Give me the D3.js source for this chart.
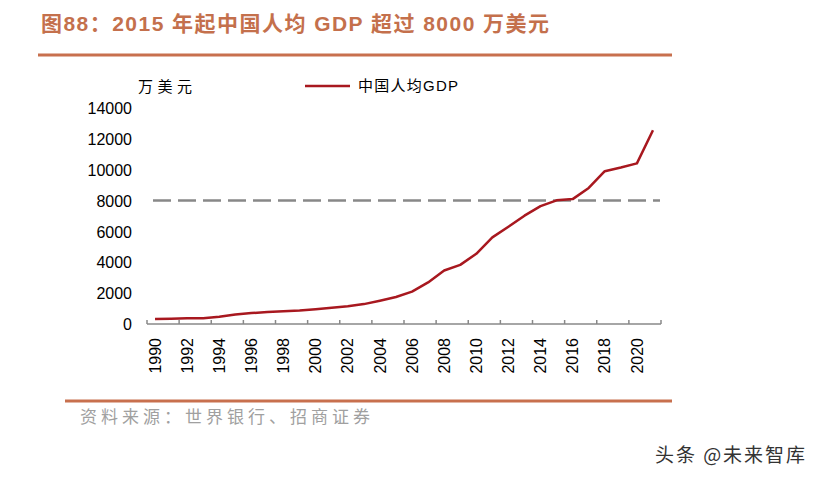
<!DOCTYPE html>
<html><head><meta charset="utf-8">
<script src="https://cdn.jsdelivr.net/npm/d3@7"></script>
<style>
html,body{margin:0;padding:0;background:#fff;}
svg{display:block;}
</style></head>
<body>
<svg id="c" width="819" height="478"></svg>
<script>
const years = d3.range(1990, 2022);
const gdpPerCapita = [318, 333, 366, 377, 473, 610, 709, 782, 829, 873, 959, 1053, 1149, 1289, 1509, 1753, 2099, 2694, 3468, 3832, 4550, 5614, 6301, 7020, 7636, 8016, 8094, 8817, 9905, 10144, 10409, 12556];
const yTicks = [0, 2000, 4000, 6000, 8000, 10000, 12000, 14000];
const xTickLabels = years.filter(y => y % 2 === 0);
const threshold = 8000;
const titleText = "图88：2015 年起中国人均 GDP 超过 8000 万美元";
const unitText = "万美元";
const legendText = "中国人均GDP";
const sourceText = "资料来源：世界银行、招商证券";
const watermark = "头条 @未来智库";

const svg = d3.select("#c");
const cjk = "'Noto Sans CJK SC', 'Liberation Sans', sans-serif";
const mixed = "'Liberation Sans', 'Noto Sans CJK SC', sans-serif";
const latin = "'Liberation Sans', Arial, sans-serif";

const x = d3.scaleBand().domain(years).range([147, 661]).padding(0);
const y = d3.scaleLinear().domain([0, 14000]).range([324, 108]);

// title
svg.append("text").attr("x", 41).attr("y", 31)
  .attr("font-family", mixed).attr("font-weight", "bold").attr("font-size", 21)
  .attr("fill", "#c4704c").attr("textLength", 508).attr("lengthAdjust", "spacing")
  .text(titleText);
svg.append("line").attr("x1", 38).attr("x2", 672).attr("y1", 55).attr("y2", 55)
  .attr("stroke", "#c8704e").attr("stroke-width", 3);

// unit
svg.append("text").attr("x", 138).attr("y", 92)
  .attr("font-family", cjk).attr("font-size", 15).attr("fill", "#000")
  .attr("textLength", 54).attr("lengthAdjust", "spacing").text(unitText);

// legend
svg.append("line").attr("x1", 305).attr("x2", 350).attr("y1", 86).attr("y2", 86)
  .attr("stroke", "#a8181f").attr("stroke-width", 2.5);
svg.append("text").attr("x", 358).attr("y", 91)
  .attr("font-family", mixed).attr("font-size", 15).attr("fill", "#000")
  .attr("textLength", 100).attr("lengthAdjust", "spacing").text(legendText);

// y axis labels (no line)
const yAxis = d3.axisLeft(y).tickValues(yTicks).tickSize(0).tickPadding(0).tickFormat(d3.format("d"));
const gy = svg.append("g").attr("transform", "translate(132,0)").call(yAxis);
gy.select(".domain").remove();
gy.selectAll("text").attr("font-family", latin).attr("font-size", 16).attr("fill", "#000").attr("dy", "0.35em");

// x axis
const gx = svg.append("g").attr("transform", `translate(0,${y(0)})`);
gx.append("line").attr("x1", x.range()[0]).attr("x2", x.range()[1]).attr("y1", 0).attr("y2", 0)
  .attr("stroke", "#888").attr("stroke-width", 1.5);
const tickPos = d3.range(0, years.length + 1, 2).map(i => x.range()[0] + i * x.bandwidth());
gx.selectAll("line.tk").data(tickPos).join("line").attr("class", "tk")
  .attr("x1", d => d).attr("x2", d => d).attr("y1", 0).attr("y2", -4)
  .attr("stroke", "#888").attr("stroke-width", 1.5);
gx.selectAll("text").data(xTickLabels).join("text")
  .attr("transform", d => `translate(${x(d) + x.bandwidth() / 2},14) rotate(-90)`)
  .attr("text-anchor", "end").attr("dy", "0.35em")
  .attr("font-family", latin).attr("font-size", 16).attr("fill", "#000")
  .text(d => d);

// threshold dashed line
svg.append("line").attr("x1", 153).attr("x2", 660).attr("y1", y(threshold)).attr("y2", y(threshold))
  .attr("stroke", "#888").attr("stroke-width", 2.5).attr("stroke-dasharray", "18,7");

// data line
const line = d3.line().x((d, i) => x(years[i]) + x.bandwidth() / 2).y(d => y(d));
svg.append("path").datum(gdpPerCapita).attr("d", line)
  .attr("fill", "none").attr("stroke", "#a8181f").attr("stroke-width", 2.5).attr("stroke-linejoin", "round");

// bottom rule + source
svg.append("line").attr("x1", 65).attr("x2", 672).attr("y1", 401).attr("y2", 401)
  .attr("stroke", "#c8704e").attr("stroke-width", 3);
svg.append("text").attr("x", 80).attr("y", 423)
  .attr("font-family", cjk).attr("font-size", 17).attr("fill", "#a0a0a0")
  .attr("textLength", 290).attr("lengthAdjust", "spacing").text(sourceText);

// watermark
svg.append("text").attr("x", 655).attr("y", 462)
  .attr("font-family", cjk).attr("font-size", 19).attr("fill", "#333")
  .attr("textLength", 150).attr("lengthAdjust", "spacing")
  .text(watermark);
</script>
</body></html>
